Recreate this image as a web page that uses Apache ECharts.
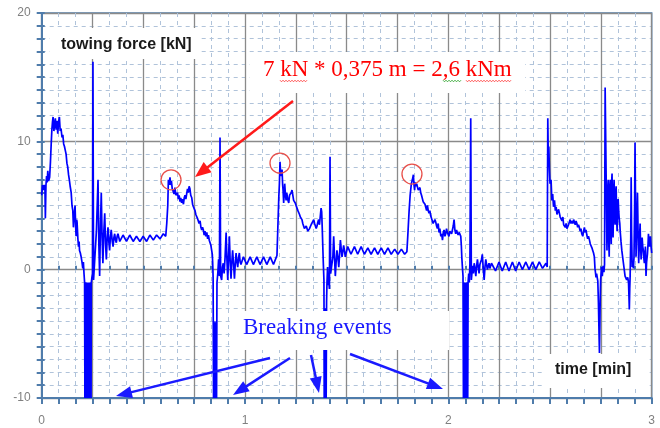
<!DOCTYPE html>
<html><head><meta charset="utf-8">
<script src="https://cdn.jsdelivr.net/npm/echarts/dist/echarts.min.js"></script>
<style>html,body{margin:0;padding:0;background:#fff}#c{width:660px;height:428px}</style>
</head><body><div id="c"></div>
<script>
// tick labels
const xTickLabels = ['0', '1', '2', '3'];
const yTickLabels = { '-10': '-10', '0': '0', '10': '10', '20': '20' };

// towing force [kN] vs time [min], one array per phase
const cycle0 = [[0.000,5.8],[0.004,6.6],[0.008,6.2],[0.012,6.6],[0.016,6.3],[0.018,4.0],[0.021,6.6],[0.024,7.3],[0.027,6.8],[0.030,7.7],[0.034,6.9],[0.039,7.2],[0.043,8.4],[0.047,9.9],[0.050,10.9],[0.053,11.5],[0.056,11.9],[0.060,10.8],[0.063,11.3],[0.067,11.8],[0.071,10.9],[0.075,11.6],[0.079,10.6],[0.083,11.5],[0.087,11.9],[0.091,10.8],[0.095,11.0],[0.100,10.3],[0.104,10.5],[0.108,9.8],[0.112,9.6],[0.116,9.3],[0.120,9.0],[0.124,8.3],[0.128,8.0],[0.132,7.4],[0.136,7.0],[0.140,6.5],[0.145,6.0],[0.149,5.0],[0.153,4.6],[0.156,3.3],[0.160,4.2],[0.164,5.0],[0.167,3.4],[0.169,2.6],[0.172,3.9],[0.174,3.7],[0.178,2.4],[0.181,1.8],[0.184,2.2],[0.186,1.5],[0.190,1.3],[0.194,1.0],[0.198,0.6],[0.202,0.1],[0.205,0.6],[0.208,-0.3],[0.211,-1.0]];
const brk1 = [[0.2125,-10],[0.214,-1.2],[0.2155,-10],[0.217,-1.0],[0.2185,-10],[0.220,-1.5],[0.2215,-10],[0.223,-1.1],[0.2245,-10],[0.226,-1.4],[0.2275,-10],[0.229,-1.8],[0.2305,-10],[0.232,-1.2],[0.2335,-10],[0.235,-2.0],[0.2365,-10],[0.238,-1.5],[0.2395,-10],[0.241,-1.3],[0.2425,-10],[0.244,-1.0],[0.247,-0.6],[0.250,-0.3],[0.252,16.2],[0.255,-0.8]];
const hold1 = [[0.261,-0.8],[0.269,3.0],[0.277,7.0],[0.281,2.0],[0.285,-0.5],[0.289,3.5],[0.293,6.0],[0.297,2.5],[0.301,0.5],[0.305,2.8],[0.310,4.4],[0.314,2.0],[0.318,0.8],[0.322,2.5],[0.326,3.3],[0.330,2.2],[0.334,1.5],[0.338,2.6],[0.342,3.1],[0.347,2.2],[0.351,1.8],[0.355,2.5],[0.359,2.8],[0.363,2.3],[0.367,2.1],[0.371,2.6],[0.375,2.8],
  [0.384,2.2],[0.400,2.7],[0.417,2.2],[0.433,2.7],[0.450,2.2],[0.466,2.6],[0.483,2.2],[0.499,2.6],[0.516,2.2],[0.532,2.7],[0.549,2.3],[0.565,2.7],[0.582,2.4],[0.598,2.8],[0.610,2.6]];
const pull1 = [[0.615,3.6],[0.620,5.0],[0.623,7.0],[0.627,6.6],[0.631,7.2],[0.634,6.6],[0.638,6.9],[0.642,6.3],[0.647,6.2],[0.651,5.9],[0.655,6.4],[0.660,5.8],[0.664,5.7],[0.668,6.0],[0.672,5.5],[0.676,5.8],[0.680,5.3],[0.684,5.6],[0.688,5.2],[0.692,5.5],[0.697,5.1],[0.701,5.6],[0.705,5.8],[0.709,5.5],[0.713,5.9],[0.717,6.3],[0.721,6.0],[0.725,6.5],[0.729,6.3],[0.733,5.8],[0.738,5.6],[0.742,5.1],[0.746,4.9],[0.750,5.0],[0.754,4.6],[0.758,4.3],[0.762,4.4],[0.766,4.0],[0.770,3.9],[0.774,3.6],[0.779,3.8],[0.783,3.3],[0.787,3.1],[0.791,3.3],[0.795,3.1],[0.799,2.7],[0.803,3.0],[0.807,2.6],[0.812,2.9],[0.816,2.4],[0.820,2.7],[0.824,2.3],[0.828,2.2],[0.832,1.9],[0.836,1.8],[0.839,1.2],[0.841,0.5],[0.843,-0.6]];
const brk2 = [[0.845,-10],[0.8465,-4.0],[0.848,-10],[0.8495,-4.5],[0.851,-10],[0.8525,-4.2],[0.854,-10],[0.8555,-4.6],[0.857,-10],[0.8585,-4.0],[0.860,-10],[0.862,-1.0],[0.866,-0.3],[0.870,0.8],[0.874,-0.5],[0.877,10.3],[0.880,-0.5]];
const hold2 = [[0.885,-0.8],[0.889,0.2],[0.893,0.5],[0.897,-0.3],[0.902,1.0],[0.907,2.9],[0.911,0.8],[0.915,-0.8],[0.919,1.0],[0.923,2.6],[0.927,0.6],[0.931,-0.7],[0.935,0.6],[0.939,1.5],[0.944,0.3],[0.948,-0.7],[0.952,0.5],[0.956,1.3],[0.960,0.6],[0.964,0.2],[0.968,0.9],[0.972,1.3],[0.976,0.6],[0.980,0.4],
  [0.992,1.0],[1.008,0.4],[1.025,1.0],[1.041,0.4],[1.058,1.0],[1.074,0.4],[1.091,1.0],[1.107,0.4],[1.124,1.0],[1.140,0.4],[1.152,0.9]];
const pull2 = [[1.157,1.1],[1.162,3.6],[1.166,5.6],[1.169,6.7],[1.172,8.4],[1.175,7.5],[1.179,7.3],[1.182,7.8],[1.185,6.6],[1.187,6.2],[1.190,5.2],[1.193,6.0],[1.195,6.7],[1.199,5.8],[1.202,5.4],[1.205,6.0],[1.208,5.9],[1.211,5.4],[1.215,5.2],[1.219,5.8],[1.223,5.7],[1.227,6.0],[1.231,6.2],[1.235,5.8],[1.239,5.4],[1.243,5.5],[1.247,5.2],[1.251,5.0],[1.256,4.9],[1.260,4.6],[1.264,4.7],[1.268,4.3],[1.272,4.1],[1.276,4.2],[1.280,3.9],[1.284,3.6],[1.288,3.4],[1.292,3.2],[1.297,3.1],[1.301,3.4],[1.305,3.3],[1.309,3.0],[1.313,2.9],[1.317,3.2],[1.321,3.3],[1.325,3.5],[1.330,3.6],[1.334,3.4],[1.338,3.9],[1.342,3.6],[1.346,3.6],[1.350,3.2],[1.354,3.4],[1.358,3.7],[1.362,3.9],[1.366,3.5],[1.371,3.6],[1.374,4.8],[1.377,4.5],[1.380,3.1],[1.383,1.5],[1.385,0.5],[1.388,-0.8]];
const brk3 = [[1.390,-10],[1.3915,-3.2],[1.393,-10],[1.3945,-3.0],[1.396,-10],[1.3975,-3.3],[1.399,-10],[1.401,-2.5],[1.403,-1.0],[1.406,0.2],[1.409,-1.2],[1.412,-0.9],[1.415,-1.5],[1.418,8.8],[1.421,-0.3]];
const hold3 = [[1.428,-0.3],[1.432,1.0],[1.436,2.6],[1.440,1.0],[1.444,-0.5],[1.448,0.6],[1.452,1.5],[1.457,0.9],[1.461,0.2],[1.465,1.2],[1.469,2.3],[1.473,1.6],[1.477,1.0],[1.481,1.4],[1.485,1.9],[1.489,1.5],[1.493,1.0],
  [1.505,1.8],[1.521,1.2],[1.538,1.8],[1.554,1.2],[1.571,1.8],[1.587,1.2],[1.604,1.7],[1.620,1.2],[1.637,1.7],[1.653,1.2],[1.670,1.7],[1.686,1.2],[1.703,1.7],[1.719,1.2],[1.736,1.6],[1.752,1.2],[1.769,1.6],[1.785,1.2],[1.796,1.4]];
const pull3 = [[1.801,2.8],[1.807,4.6],[1.812,5.8],[1.818,6.7],[1.823,7.0],[1.828,7.4],[1.831,6.6],[1.834,6.2],[1.837,6.8],[1.840,6.5],[1.844,6.7],[1.848,6.6],[1.852,6.2],[1.856,6.1],[1.860,6.4],[1.864,6.0],[1.868,5.8],[1.872,5.7],[1.876,5.3],[1.880,5.4],[1.885,5.1],[1.889,5.0],[1.893,4.6],[1.897,5.0],[1.901,4.6],[1.905,4.4],[1.909,4.6],[1.913,4.2],[1.917,4.0],[1.921,4.1],[1.925,3.6],[1.930,3.6],[1.934,3.9],[1.938,3.7],[1.942,3.4],[1.946,3.2],[1.950,3.6],[1.954,2.9],[1.958,3.2],[1.963,2.6],[1.967,2.8],[1.971,2.3],[1.975,2.9],[1.979,3.1],[1.983,2.6],[1.987,2.8],[1.991,3.2],[1.995,2.9],[1.999,3.0],[2.003,2.6],[2.007,3.0],[2.012,3.1],[2.016,2.8],[2.020,2.9],[2.024,3.4],[2.028,3.9],[2.032,3.1],[2.036,2.8],[2.040,3.1],[2.044,3.0],[2.048,2.7],[2.053,2.9],[2.057,2.9],[2.061,2.6],[2.064,1.8],[2.066,1.0],[2.069,0.2],[2.072,-0.5]];
const brk4 = [[2.074,-10],[2.0755,-1.0],[2.077,-10],[2.0785,-1.4],[2.080,-10],[2.0815,-1.1],[2.083,-10],[2.0845,-1.5],[2.086,-10],[2.0875,-1.2],[2.089,-10],[2.0905,-1.6],[2.092,-10],[2.0935,-1.0],[2.095,-10],[2.097,-1.0],[2.100,-0.3],[2.103,-1.0],[2.106,0.5],[2.110,11.8],[2.113,-0.8]];
const hold4 = [[2.119,0.3],[2.123,-0.3],[2.127,0.5],[2.131,0.1],[2.135,-0.5],[2.139,0.3],[2.143,0.8],[2.147,0.2],[2.151,-0.3],[2.155,0.4],[2.159,0.5],[2.163,0.8],[2.167,1.2],[2.171,0.2],[2.176,-0.8],[2.180,0.2],[2.184,0.8],[2.188,0.4],[2.192,0.0],[2.196,0.3],[2.200,0.5],[2.204,0.1],[2.208,0.2],[2.212,0.5],[2.216,0.6],
  [2.232,-0.1],[2.249,0.6],[2.265,-0.1],[2.282,0.6],[2.298,-0.1],[2.315,0.6],[2.331,-0.1],[2.348,0.6],[2.364,0.0],[2.381,0.6],[2.397,0.0],[2.414,0.6],[2.430,0.0],[2.447,0.6],[2.463,0.1],[2.480,0.5],[2.486,0.2]];
const pull4 = [[2.489,11.8],[2.492,8.0],[2.494,9.6],[2.497,7.8],[2.500,6.7],[2.505,7.0],[2.509,5.4],[2.513,5.9],[2.517,4.9],[2.522,5.4],[2.526,4.6],[2.530,4.9],[2.534,4.3],[2.538,4.5],[2.542,4.7],[2.546,4.6],[2.550,4.1],[2.555,4.2],[2.559,3.8],[2.563,4.1],[2.567,3.5],[2.571,3.6],[2.575,3.3],[2.579,3.6],[2.583,3.2],[2.587,3.3],[2.591,3.5],[2.595,3.4],[2.599,3.9],[2.603,3.6],[2.608,3.8],[2.612,3.6],[2.616,3.9],[2.620,3.7],[2.624,3.5],[2.628,3.8],[2.632,3.6],[2.636,3.3],[2.640,3.5],[2.644,3.3],[2.648,3.0],[2.652,3.2],[2.656,2.8],[2.661,2.6],[2.665,3.0],[2.669,3.3],[2.673,2.9],[2.677,3.1],[2.681,2.7],[2.685,2.4],[2.689,2.6],[2.694,2.3],[2.698,2.0],[2.702,1.9],[2.706,1.7],[2.710,1.5],[2.714,1.3],[2.718,1.0],[2.721,0.1],[2.724,-0.3],[2.726,-0.6],[2.729,-0.3],[2.732,-0.6],[2.735,-0.9],[2.738,-2.6],[2.741,-5.0],[2.743,-6.5],[2.745,-4.5],[2.747,-2.0],[2.749,-0.8],[2.753,0.2],[2.757,-0.5],[2.761,0.3],[2.765,-0.2],[2.768,0.4]];
const finale = [[2.771,14.2],[2.776,7.2],[2.780,1.5],[2.783,6.0],[2.786,7.0],[2.789,2.0],[2.791,1.0],[2.794,6.5],[2.796,7.0],[2.799,3.0],[2.801,2.0],[2.803,6.8],[2.805,7.5],[2.808,3.5],[2.810,2.5],[2.813,6.2],[2.815,7.0],[2.818,4.0],[2.820,3.5],[2.823,6.0],[2.825,6.5],[2.828,3.8],[2.830,3.0],[2.833,5.0],[2.835,5.5],[2.838,4.5],[2.840,4.0],[2.843,3.6],[2.845,3.0],[2.849,2.2],[2.853,1.5],[2.857,1.0],[2.861,0.5],[2.865,0.0],[2.869,-0.5],[2.873,-0.6],[2.877,-0.8],[2.882,-0.6],[2.886,-1.0],[2.888,-2.0],[2.890,-3.1],[2.892,-1.5],[2.894,-0.5],[2.897,2.5],[2.899,7.2],[2.901,3.0],[2.904,0.2],[2.907,0.5],[2.910,0.1],[2.913,1.0],[2.916,5.0],[2.918,9.9],[2.920,6.0],[2.923,1.0],[2.926,3.0],[2.930,6.0],[2.933,3.0],[2.936,0.5],[2.939,2.0],[2.943,3.6],[2.945,2.0],[2.948,0.8],[2.951,1.5],[2.953,2.5],[2.956,1.8],[2.959,1.5],[2.962,0.8],[2.964,0.5],[2.967,1.2],[2.969,1.8],[2.972,-0.5],[2.975,0.6],[2.979,1.2],[2.982,2.0],[2.984,2.8],[2.987,2.2],[2.989,1.8],[2.992,2.4],[2.994,2.6],[2.997,1.8],[3.000,1.3]];

// dense oscillation bands during the breaking events: [t start, t end, force low, force high]
const breakBands = [[0.208, 0.245, -10, -1.0], [0.844, 0.862, -10, -4.1], [1.387, 1.402, -10, -3.2], [2.075, 2.097, -10, -1.0]];

// highlighted peaks (data coordinates)
const peakMarks = [[0.636, 7.0], [1.172, 8.3], [1.821, 7.45]];

const forceData = [].concat(cycle0, brk1, hold1, pull1, brk2, hold2, pull2, brk3, hold3, pull3, brk4, hold4, pull4, finale);

const AX = '#4f7cab', MAJOR = '#8a8a8a', MINOR = '#b0c3da', LBL = '#808080', LINE = '#0000ff';
const chart = echarts.init(document.getElementById('c'), null, { renderer: 'canvas' });

function isNear(v, r) { return Math.abs(v - r) < 1e-4; }
const baseX = { type: 'value', min: 0, max: 3 };
const baseY = { type: 'value', min: -10, max: 20 };

chart.setOption({
  animation: false,
  backgroundColor: '#fff',
  grid: { left: 41.7, right: 8.3, top: 13, bottom: 30, show: true, borderColor: AX, borderWidth: 1.5 },
  xAxis: [
    Object.assign({}, baseX, { position: 'bottom', interval: 1/12,
      axisLine: { show: true, onZero: false, lineStyle: { color: AX, width: 2 } },
      axisTick: { show: true, length: 6, lineStyle: { color: AX, width: 2 } },
      axisLabel: { margin: 17, color: LBL, fontSize: 12, fontFamily: 'Liberation Sans',
        formatter: v => { const r = Math.round(v); return isNear(v, r) ? xTickLabels[r] : ''; } },
      splitLine: { show: true, lineStyle: { color: MINOR, type: [4, 4], width: 1 } } }),
    Object.assign({}, baseX, { position: 'bottom', interval: 1/12,
      axisLine: { show: false }, axisTick: { show: true, inside: true, length: 4, lineStyle: { color: AX, width: 2 } },
      axisLabel: { show: false }, splitLine: { show: false } }),
    Object.assign({}, baseX, { position: 'top', interval: 0.25,
      axisLine: { show: false }, axisTick: { show: false }, axisLabel: { show: false },
      splitLine: { show: true, lineStyle: { color: MAJOR, width: 1.3 } } })
  ],
  yAxis: [
    Object.assign({}, baseY, { position: 'left', interval: 1,
      axisLine: { show: true, onZero: false, lineStyle: { color: AX, width: 2 } },
      axisTick: { show: true, length: 5, lineStyle: { color: AX, width: 2 } },
      axisLabel: { margin: 11, color: LBL, fontSize: 12, fontFamily: 'Liberation Sans',
        formatter: v => { const r = Math.round(v); return (isNear(v, r) && r % 10 === 0) ? yTickLabels[String(r)] : ''; } },
      splitLine: { show: true, lineStyle: { color: MINOR, type: [4, 4], width: 1 } } }),
    Object.assign({}, baseY, { position: 'left', interval: 1,
      axisLine: { show: false }, axisTick: { show: true, inside: true, length: 3, lineStyle: { color: AX, width: 2 } },
      axisLabel: { show: false }, splitLine: { show: false } }),
    Object.assign({}, baseY, { position: 'right', interval: 10,
      axisLine: { show: false }, axisTick: { show: false }, axisLabel: { show: false },
      splitLine: { show: true, lineStyle: { color: MAJOR, width: 1.3 } } })
  ],
  series: [{
    type: 'line', xAxisIndex: 0, yAxisIndex: 0, data: forceData,
    showSymbol: false, symbol: 'none', clip: true, z: 5,
    lineStyle: { color: LINE, width: 1.7 }
  }, {
    type: 'custom', xAxisIndex: 0, yAxisIndex: 0, data: breakBands, clip: true, z: 5,
    encode: { x: [0, 1], y: [2, 3] },
    renderItem: (params, api) => {
      const a = api.coord([api.value(0), api.value(3)]);
      const b = api.coord([api.value(1), api.value(2)]);
      return { type: 'rect', shape: { x: a[0], y: a[1], width: b[0] - a[0], height: b[1] - a[1] }, style: { fill: LINE } };
    }
  }]
});

function arrow(x1, y1, x2, y2, color, hl, hw, lw) {
  const dx = x2 - x1, dy = y2 - y1, L = Math.hypot(dx, dy), ux = dx / L, uy = dy / L;
  const bx = x2 - ux * hl, by = y2 - uy * hl, px = -uy * hw / 2, py = ux * hw / 2;
  return [
    { type: 'line', z: 120, shape: { x1, y1, x2: bx + ux * 2, y2: by + uy * 2 }, style: { stroke: color, lineWidth: lw } },
    { type: 'polygon', z: 120, shape: { points: [[x2, y2], [bx + px, by + py], [bx - px, by - py]] }, style: { fill: color } }
  ];
}
function squiggle(x1, x2, y, color) {
  const pts = []; let up = true;
  for (let x = x1; x <= x2; x += 1.5) { pts.push([x, up ? y - 0.8 : y + 0.8]); up = !up; }
  return { type: 'polyline', z: 121, shape: { points: pts }, style: { stroke: color, lineWidth: 0.8, fill: null } };
}
const box = (x, y, w, h) => ({ type: 'rect', z: 100, shape: { x, y, width: w, height: h }, style: { fill: '#fff' } });
const txt = (text, x, y, font, fill) => ({ type: 'text', z: 110, style: { text, x, y, font, fill, verticalAlign: 'middle', align: 'left' } });

const g = [
  box(50, 28, 150, 31),
  box(250, 52, 275, 41),
  box(233, 311, 216, 39),
  box(543, 354, 106, 34),
  txt('towing force [kN]', 61, 44.5, 'bold 16px "Liberation Sans"', '#1a1a1a'),
  txt('7 kN * 0,375 m = 2,6 kNm', 263, 70, '23px "Liberation Serif"', '#ff0000'),
  txt('Breaking events', 243, 327.5, '23px "Liberation Serif"', '#1a1aff'),
  txt('time [min]', 555, 369.5, 'bold 16px "Liberation Sans"', '#1a1a1a'),
  squiggle(280, 308, 81, '#ff3030'),
  squiggle(443, 461, 81, '#20a020'),
  squiggle(466, 512, 81, '#ff3030')
];
peakMarks.forEach(p => {
  const c = chart.convertToPixel({ xAxisIndex: 0, yAxisIndex: 0 }, p);
  g.push({ type: 'circle', z: 115, shape: { cx: c[0], cy: c[1], r: 10 }, style: { fill: null, stroke: '#e8504a', lineWidth: 1.3 } });
});
[].push.apply(g, arrow(293, 101, 195, 177, '#ff1a1a', 16, 13, 2.5));
[].push.apply(g, arrow(270, 358, 116, 396, '#1a1aff', 16, 12, 2.5));
[].push.apply(g, arrow(290, 358, 233, 395, '#1a1aff', 16, 12, 2.5));
[].push.apply(g, arrow(311, 355, 319, 393, '#1a1aff', 16, 12, 2.5));
[].push.apply(g, arrow(350, 354, 443, 389, '#1a1aff', 16, 12, 2.5));
chart.setOption({ graphic: g });
</script></body></html>
